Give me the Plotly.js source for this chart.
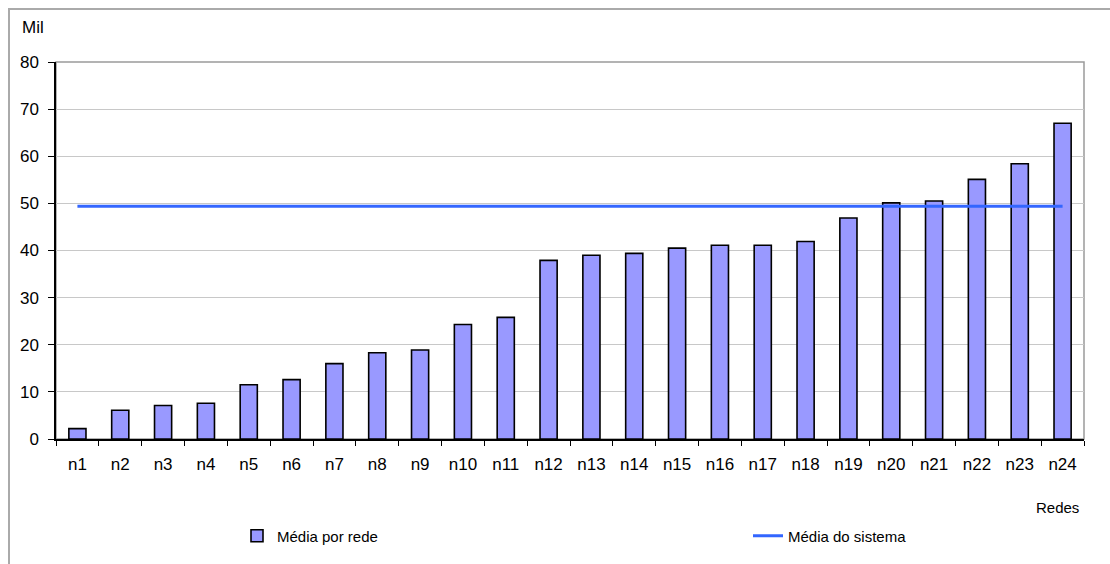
<!DOCTYPE html>
<html>
<head>
<meta charset="utf-8">
<script src="https://cdn.plot.ly/plotly-3.0.1.min.js"></script>
<style>
  html, body { margin: 0; padding: 0; background: #ffffff; }
  #chart { width: 1110px; height: 564px; }
</style>
</head>
<body>
<div id="chart"></div>
<script>
const categories = ["n1","n2","n3","n4","n5","n6","n7","n8","n9","n10","n11","n12",
                    "n13","n14","n15","n16","n17","n18","n19","n20","n21","n22","n23","n24"];
const mediaPorRede = [2.2, 6.1, 7.1, 7.6, 11.5, 12.6, 16.0, 18.3, 18.9, 24.3, 25.8, 37.9,
                      39.0, 39.4, 40.5, 41.1, 41.1, 41.9, 46.9, 50.1, 50.5, 55.1, 58.4, 67.0];
const mediaDoSistema = [49.4, 49.4, 49.4, 49.4, 49.4, 49.4, 49.4, 49.4, 49.4, 49.4, 49.4, 49.4,
                        49.4, 49.4, 49.4, 49.4, 49.4, 49.4, 49.4, 49.4, 49.4, 49.4, 49.4, 49.4];
const yTickValues = [0, 10, 20, 30, 40, 50, 60, 70, 80];
const seriesNames = ["Média por rede", "Média do sistema"];
const yUnitLabel = "Mil";
const xAxisLabel = "Redes";

const FONT = "'Liberation Sans', Arial, sans-serif";

const traces = [
  {
    type: "bar",
    name: seriesNames[0],
    x: categories,
    y: mediaPorRede,
    width: 0.4,
    marker: { color: "#9999ff", line: { color: "#000000", width: 1.6 } },
    legend: "legend",
    hoverinfo: "x+y"
  },
  {
    type: "scatter",
    mode: "lines",
    name: seriesNames[1],
    x: categories,
    y: mediaDoSistema,
    line: { color: "#3366ff", width: 3 },
    legend: "legend2",
    hoverinfo: "x+y"
  }
];

const legendCommon = {
  orientation: "h",
  xref: "container",
  yref: "container",
  xanchor: "left",
  yanchor: "middle",
  y: 1 - 536 / 564,
  font: { family: FONT, size: 15, color: "#000000" },
  bgcolor: "rgba(0,0,0,0)",
  borderwidth: 0
};

const layout = {
  width: 1110,
  height: 564,
  margin: { l: 56, r: 26, t: 62, b: 125, autoexpand: false },
  paper_bgcolor: "#ffffff",
  plot_bgcolor: "#ffffff",
  font: { family: FONT, size: 17, color: "#000000" },
  showlegend: true,
  xaxis: {
    type: "category",
    range: [-0.5, 23.5],
    tickson: "boundaries",
    ticks: "outside",
    ticklen: 5,
    tickwidth: 1,
    tickcolor: "#000000",
    showgrid: false,
    showline: true,
    linecolor: "#000000",
    linewidth: 1.5,
    tickfont: { family: FONT, size: 17, color: "#000000" },
    ticklabelstandoff: 9,
    fixedrange: true,
    zeroline: false,
    automargin: false
  },
  yaxis: {
    range: [0, 80],
    tickmode: "array",
    tickvals: yTickValues,
    ticktext: yTickValues.map(String),
    ticks: "outside",
    ticklen: 6,
    tickwidth: 1,
    tickcolor: "#000000",
    showgrid: true,
    gridcolor: "#c8c8c8",
    gridwidth: 1,
    showline: true,
    linecolor: "#000000",
    linewidth: 1.5,
    tickfont: { family: FONT, size: 17, color: "#000000" },
    ticklabelstandoff: 6,
    zeroline: false,
    fixedrange: true,
    automargin: false
  },
  legend: Object.assign({}, legendCommon, { x: 237 / 1110 }),
  legend2: Object.assign({}, legendCommon, { x: 748 / 1110 }),
  shapes: [
    {
      type: "rect", xref: "paper", yref: "paper",
      x0: 0, x1: 1, y0: 0, y1: 1,
      line: { color: "#9a9a9a", width: 1.5 },
      layer: "below"
    },
    {
      type: "path", xref: "paper", yref: "paper",
      path: "M " + (-47 / 1028) + "," + (-140 / 377) + " L " + (-47 / 1028) + "," + (1 + 53 / 377) + " L 1.1," + (1 + 53 / 377),
      line: { color: "#aaaaaa", width: 2 },
      layer: "below"
    }
  ],
  annotations: [
    {
      text: yUnitLabel, xref: "paper", yref: "paper",
      x: -36 / 1028, y: 1 + 34 / 377, xanchor: "left", yanchor: "middle",
      showarrow: false, font: { family: FONT, size: 17, color: "#000000" }
    },
    {
      text: xAxisLabel, xref: "paper", yref: "paper",
      x: 1 - 3 / 1028, y: -68 / 377, xanchor: "right", yanchor: "middle",
      showarrow: false, font: { family: FONT, size: 15, color: "#000000" }
    }
  ]
};

Plotly.newPlot("chart", traces, layout, { displayModeBar: false });
</script>
</body>
</html>
